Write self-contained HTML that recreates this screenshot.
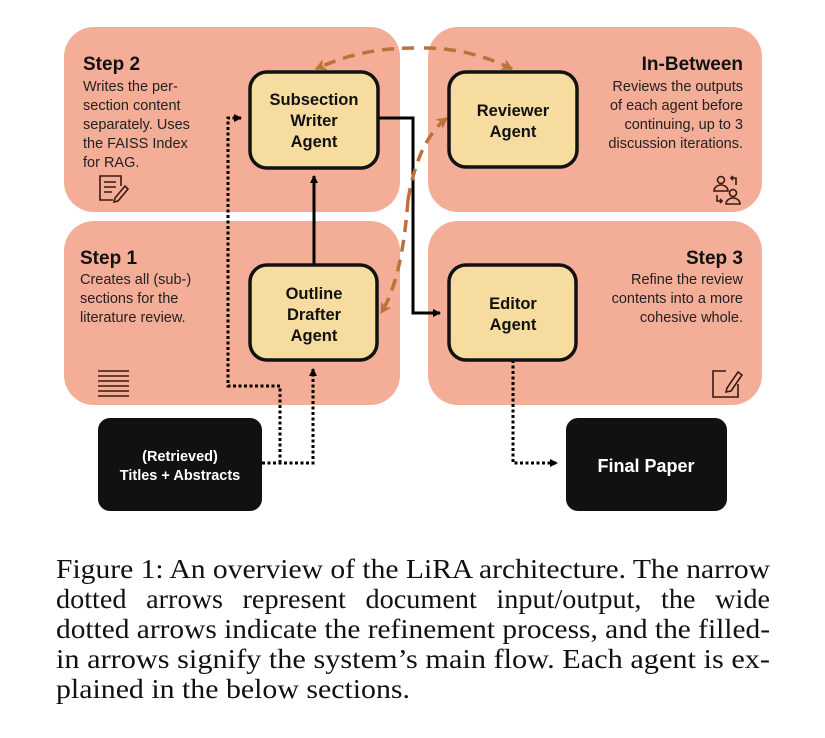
<!DOCTYPE html>
<html><head><meta charset="utf-8"><style>
html,body{margin:0;padding:0;background:#fff;width:825px;height:738px;overflow:hidden}
svg{display:block}
.h{font-family:"Liberation Sans",sans-serif;font-weight:bold;font-size:19px;fill:#111}
.d{font-family:"Liberation Sans",sans-serif;font-size:14.5px;fill:#222}
.a{font-family:"Liberation Sans",sans-serif;font-weight:bold;font-size:16.5px;fill:#111}
.w{font-family:"Liberation Sans",sans-serif;font-weight:bold;fill:#fff}
.c{font-family:"Liberation Serif",serif;font-size:27px;fill:#111}
</style></head><body>
<svg width="825" height="738" viewBox="0 0 825 738" xmlns="http://www.w3.org/2000/svg">
<defs>
<marker id="ab" markerWidth="8" markerHeight="8" refX="7" refY="4" orient="auto" markerUnits="userSpaceOnUse"><path d="M0,0 L8,4 L0,8 z" fill="#000"/></marker>
<marker id="ao" markerWidth="12" markerHeight="12" refX="10" refY="6" orient="auto" markerUnits="userSpaceOnUse"><path d="M0,0 L11,6 L0,12 L3,6 z" fill="#c0703a"/></marker>
</defs>
<rect x="64" y="27" width="336" height="185" rx="30" fill="#f4ad96"/>
<rect x="428" y="27" width="334" height="185" rx="30" fill="#f4ad96"/>
<rect x="64" y="221" width="336" height="184" rx="30" fill="#f4ad96"/>
<rect x="428" y="221" width="334" height="184" rx="30" fill="#f4ad96"/>

<text class="h" x="83" y="70">Step 2</text>
<text class="d" x="83" y="91">Writes the per-</text>
<text class="d" x="83" y="110">section content</text>
<text class="d" x="83" y="129">separately. Uses</text>
<text class="d" x="83" y="148">the FAISS Index</text>
<text class="d" x="83" y="167">for RAG.</text>

<text class="h" x="743" y="70" text-anchor="end">In-Between</text>
<text class="d" x="743" y="91" text-anchor="end">Reviews the outputs</text>
<text class="d" x="743" y="110" text-anchor="end">of each agent before</text>
<text class="d" x="743" y="129" text-anchor="end">continuing, up to 3</text>
<text class="d" x="743" y="148" text-anchor="end">discussion iterations.</text>

<text class="h" x="80" y="264">Step 1</text>
<text class="d" x="80" y="284">Creates all (sub-)</text>
<text class="d" x="80" y="303">sections for the</text>
<text class="d" x="80" y="322">literature review.</text>

<text class="h" x="743" y="264" text-anchor="end">Step 3</text>
<text class="d" x="743" y="284" text-anchor="end">Refine the review</text>
<text class="d" x="743" y="303" text-anchor="end">contents into a more</text>
<text class="d" x="743" y="322" text-anchor="end">cohesive whole.</text>

<g stroke="#3a1a12" stroke-width="1.6" fill="none">
<path d="M113 200 H100 V176 H121 V186"/><path d="M104 182 H116 M104 187 H116 M104 192 H112"/><path d="M115 198 L125 186 L128 189 L118 201 L114 202 z"/>
<path d="M98 371 H129 M98 376 H129 M98 381 H129 M98 386 H129 M98 391 H129 M98 396 H129"/>
<path d="M726 371 H713 V397 H738 V384"/><path d="M727 388 L738 372 L742 375 L731 391 L726 392 z"/>
<circle cx="721" cy="180" r="3.5"/><path d="M714 191 A7 6 0 0 1 728 191 z"/>
<circle cx="733" cy="193" r="3.5"/><path d="M726 204 A7 6 0 0 1 740 204 z"/>
<path d="M736 185 V178 H731 M733 176 L731 178 L733 180"/><path d="M717 195 V201 H722 M720 199 L722 201 L720 203"/>
</g>

<g stroke="#000" stroke-width="3" fill="none">
<path d="M314 264 V176" marker-end="url(#ab)"/>
<path d="M379 118 H413 V313 H440" marker-end="url(#ab)"/>
</g>
<g stroke="#000" stroke-width="3" fill="none" stroke-dasharray="3 2.5">
<path d="M262 463 H313 V369" marker-end="url(#ab)"/>
<path d="M280 463 V386 H228 V118 H241" marker-end="url(#ab)"/>
<path d="M513 360 V463 H557" marker-end="url(#ab)"/>
</g>
<g stroke="#c0703a" stroke-width="3.5" fill="none" stroke-dasharray="12 8">
<path d="M414 48 Q360 48 316 69" marker-end="url(#ao)"/>
<path d="M424 48 Q470 48 512 69" marker-end="url(#ao)"/>
<path d="M408 200 Q418 140 447 118" marker-end="url(#ao)"/>
<path d="M408 200 Q402 280 381 313" marker-end="url(#ao)"/>
</g>

<g fill="#f7dca0" stroke="#111" stroke-width="3.5">
<rect x="250" y="72" width="128" height="96" rx="17"/>
<rect x="449" y="72" width="128" height="95" rx="17"/>
<rect x="250" y="265" width="127" height="95" rx="17"/>
<rect x="449" y="265" width="127" height="95" rx="17"/>
</g>
<text class="a" x="314" y="105" text-anchor="middle">Subsection</text>
<text class="a" x="314" y="126" text-anchor="middle">Writer</text>
<text class="a" x="314" y="147" text-anchor="middle">Agent</text>
<text class="a" x="513" y="116" text-anchor="middle">Reviewer</text>
<text class="a" x="513" y="137" text-anchor="middle">Agent</text>
<text class="a" x="314" y="299" text-anchor="middle">Outline</text>
<text class="a" x="314" y="320" text-anchor="middle">Drafter</text>
<text class="a" x="314" y="341" text-anchor="middle">Agent</text>
<text class="a" x="513" y="309" text-anchor="middle">Editor</text>
<text class="a" x="513" y="330" text-anchor="middle">Agent</text>

<rect x="98" y="418" width="164" height="93" rx="12" fill="#111"/>
<rect x="566" y="418" width="161" height="93" rx="12" fill="#111"/>
<text class="w" x="180" y="461" font-size="14.5" text-anchor="middle">(Retrieved)</text>
<text class="w" x="180" y="480" font-size="14.5" text-anchor="middle">Titles + Abstracts</text>
<text class="w" x="646" y="472" font-size="18" text-anchor="middle">Final Paper</text>

<text class="c" x="56" y="578" textLength="714" lengthAdjust="spacingAndGlyphs">Figure 1: An overview of the LiRA architecture. The narrow</text>
<text class="c" x="56" y="608" textLength="714" lengthAdjust="spacingAndGlyphs" word-spacing="12">dotted arrows represent document input/output, the wide</text>
<text class="c" x="56" y="638" textLength="714" lengthAdjust="spacingAndGlyphs">dotted arrows indicate the refinement process, and the filled-</text>
<text class="c" x="56" y="668" textLength="714" lengthAdjust="spacingAndGlyphs">in arrows signify the system’s main flow. Each agent is ex-</text>
<text class="c" x="56" y="698" textLength="354" lengthAdjust="spacingAndGlyphs">plained in the below sections.</text>
</svg>
</body></html>
